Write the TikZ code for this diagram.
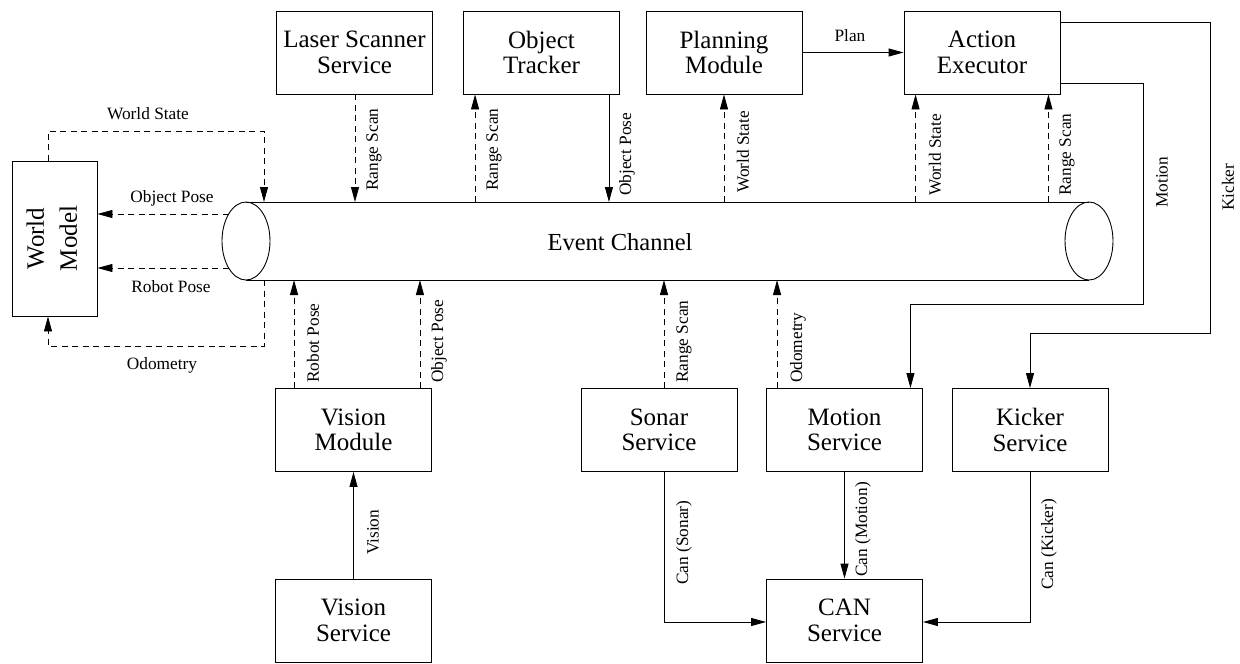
\documentclass[tikz,border=0pt]{standalone}
\usepackage{fontspec}
\setmainfont{Liberation Serif}
\usetikzlibrary{arrows.meta,calc}
\begin{document}
\begin{tikzpicture}[x=1pt,y=-1pt,
  box/.style={draw, line width=0.9pt, minimum width=156pt, minimum height=83pt,
    inner sep=0pt, align=center, font=\fontsize{25}{25.5}\selectfont},
  lbl/.style={font=\fontsize{17.3}{18}\selectfont, inner sep=0pt},
  vlbl/.style={lbl, rotate=90, anchor=west},
  flow/.style={line width=0.9pt, -{Triangle[length=15pt,width=8pt]}},
  dflow/.style={flow, dash pattern=on 6pt off 4.5pt},
  pipe/.style={line width=0.9pt}]
\useasboundingbox (0,0) rectangle (1240,664);

% event channel drawn as a horizontal cylinder
\coordinate (lcen) at (246,241);
\coordinate (rcen) at (1089,241);
\coordinate (ctop) at (246,202);
\coordinate (cbot) at (246,280);
\draw[pipe] (lcen) ellipse [x radius=24, y radius=39];
\draw[pipe] (rcen) ellipse [x radius=24, y radius=39];
\draw[pipe] (ctop) -- (ctop -| rcen);
\draw[pipe] (cbot) -- (cbot -| rcen);
\node[font=\fontsize{24.5}{25}\selectfont] (chan) at (620,242) {Event Channel};

% components
\node[box, minimum width=85pt, minimum height=155pt, font=\fontsize{25}{29}\selectfont]
  (wm) at (54.5,238.5) {\rotatebox{90}{\begin{tabular}{@{}c@{}}World\\[4pt]Model\end{tabular}}};
\node[box] (laser)   at (354.5,52.5) {Laser Scanner\\Service};
\node[box] (tracker) at (541.5,52.5) {Object\\Tracker};
\node[box] (plan)    at (724,52.5)   {Planning\\Module};
\node[box] (ae)      at (982,52.5)   {Action\\Executor};
\node[box] (vmod)    at (353.5,430)  {Vision\\Module};
\node[box] (sonar)   at (659,430)    {Sonar\\Service};
\node[box] (motion)  at (844.5,430)  {Motion\\Service};
\node[box] (kicker)  at (1030,430)   {Kicker\\Service};
\node[box] (vserv)   at (353.5,620.5){Vision\\Service};
\node[box] (can)     at (844.5,620.5){CAN\\Service};

% world model links
\coordinate (wsbend) at (264,131);
\coordinate (odobend) at (264,346);
\coordinate (opstart) at (228.7,214);
\coordinate (rpstart) at (228.7,268);
\draw[dflow] ([xshift=-6.5pt]wm.north) |- (wsbend) -- (wsbend |- ctop);
\draw[dflow] (odobend |- cbot) -- (odobend) -| ([xshift=-6.5pt]wm.south);
\draw[dflow] (opstart) -- (opstart -| wm.east);
\draw[dflow] (rpstart) -- (rpstart -| wm.east);
\node[lbl] (l-ws)  at (148,114) {World State};
\node[lbl] (l-op)  at (172,198) {Object Pose};
\node[lbl] (l-rp)  at (171,287) {Robot Pose};
\node[lbl] (l-odo) at (162,365) {Odometry};

% upper components and the channel
\draw[dflow] ([xshift=0.5pt]laser.south) -- ([xshift=0.5pt]laser.south |- ctop);
\draw[dflow] ([xshift=12pt]tracker.south west |- ctop) -- ([xshift=12pt]tracker.south west);
\draw[flow]  ([xshift=-11pt]tracker.south east) -- ([xshift=-11pt]tracker.south east |- ctop);
\draw[dflow] (plan.south |- ctop) -- (plan.south);
\draw[dflow] ([xshift=12pt]ae.south west |- ctop) -- ([xshift=12pt]ae.south west);
\draw[dflow] ([xshift=-12pt]ae.south east |- ctop) -- ([xshift=-12pt]ae.south east);
\draw[flow]  (plan.east) -- (ae.west);
\node[vlbl] (l-lrs) at (374,191) {Range Scan};
\node[vlbl] (l-trs) at (494,191) {Range Scan};
\node[vlbl] (l-top) at (627,196) {Object Pose};
\node[vlbl] (l-pws) at (743,193) {World State};
\node[vlbl] (l-aws) at (935,196) {World State};
\node[vlbl] (l-ars) at (1067,196) {Range Scan};
\node[lbl] (l-plan) at (850,36) {Plan};

% executor commands
\coordinate (mbend) at (1143,304);
\coordinate (kbend) at (1210,333);
\draw[flow] ([yshift=11pt]ae.south east) -| (mbend) -| ([xshift=-12.5pt]motion.north east);
\draw[flow] ([yshift=-12pt]ae.north east) -| (kbend) -| (kicker.north);
\node[vlbl] (l-mot) at (1162,208) {Motion};
\node[vlbl] (l-kick) at (1228,211) {Kicker};

% lower components and the channel
\draw[dflow] ([xshift=19pt]vmod.north west) -- ([xshift=19pt]vmod.north west |- cbot);
\draw[dflow] ([xshift=-12pt]vmod.north east) -- ([xshift=-12pt]vmod.north east |- cbot);
\draw[dflow] ([xshift=5pt]sonar.north) -- ([xshift=5pt]sonar.north |- cbot);
\draw[dflow] ([xshift=11pt]motion.north west) -- ([xshift=11pt]motion.north west |- cbot);
\node[vlbl] (l-vrp) at (313,383) {Robot Pose};
\node[vlbl] (l-vop) at (439,383) {Object Pose};
\node[vlbl] (l-srs) at (684,383) {Range Scan};
\node[vlbl] (l-modo) at (798,383) {Odometry};

% device services
\draw[flow] (vserv.north) -- (vmod.south);
\draw[flow] ([xshift=5pt]sonar.south) |- ([yshift=-1.5pt]can.west);
\draw[flow] (motion.south) -- (can.north);
\draw[flow] (kicker.south) |- ([yshift=-1.5pt]can.east);
\node[vlbl] (l-vis) at (373,555) {Vision};
\node[vlbl] (l-cs) at (684,585) {Can (Sonar)};
\node[vlbl] (l-cm) at (863,577) {Can (Motion)};
\node[vlbl] (l-ck) at (1049,590) {Can (Kicker)};
\end{tikzpicture}
\end{document}
